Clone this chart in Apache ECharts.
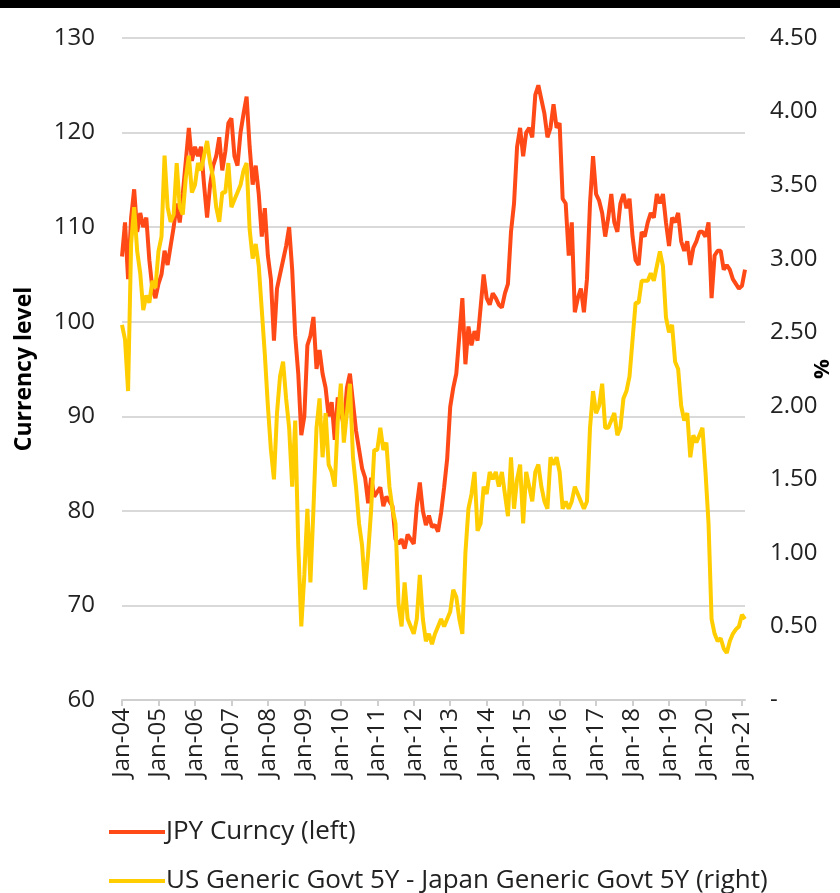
<!DOCTYPE html>
<html>
<head>
<meta charset="utf-8">
<script src="https://cdn.jsdelivr.net/npm/echarts@6/dist/echarts.min.js"></script>
<style>
    html, body { margin: 0; padding: 0; background: #fff; }
    #chart { width: 840px; height: 893px; }
</style>
</head>
<body>
<div id="chart"></div>
<script>
    // month labels Jan-04 .. Feb-21
    var years = ['04','05','06','07','08','09','10','11','12','13','14','15','16','17','18','19','20','21'];
    var monthNames = ['Jan','Feb','Mar','Apr','May','Jun','Jul','Aug','Sep','Oct','Nov','Dec'];
    var months = [];
    for (var i = 0; i < years.length; i++) {
        for (var j = 0; j < 12; j++) {
            if (years[i] === '21' && j > 1) break;
            months.push(monthNames[j] + '-' + years[i]);
        }
    }

    // JPY Curncy (left axis), one value per month
    var jpy = [
        106.9, 110.5, 104.5, 111.0, 114.0, 109.5, 111.5, 110.0, 111.0, 106.5, 103.5, 102.5, // 2004
        104.0, 105.0, 107.5, 106.0, 108.0, 110.0, 112.5, 110.5, 113.5, 117.0, 120.5, 117.0, // 2005
        118.5, 117.5, 118.5, 114.5, 111.0, 114.5, 116.5, 117.5, 119.5, 116.0, 118.0, 121.0, // 2006
        121.5, 117.5, 116.5, 120.0, 122.0, 123.8, 118.5, 114.5, 116.5, 113.5, 109.0, 112.0, // 2007
        107.0, 104.5, 98.0, 103.5, 105.0, 106.5, 108.0, 110.0, 105.5, 98.5, 94.5, 88.0,      // 2008
        90.0, 97.5, 98.5, 100.5, 95.0, 97.0, 94.5, 93.0, 90.0, 91.5, 87.5, 92.0,             // 2009
        90.5, 89.0, 93.0, 94.5, 91.5, 88.5, 86.5, 84.5, 83.5, 80.8, 83.5, 81.5,              // 2010
        82.0, 82.5, 80.5, 81.5, 81.0, 80.5, 77.0, 76.5, 77.0, 76.0, 77.5, 77.0,              // 2011
        76.5, 80.5, 83.0, 80.0, 78.5, 79.5, 78.3, 78.5, 77.8, 79.8, 82.5, 85.5,              // 2012
        91.0, 93.0, 94.5, 98.5, 102.5, 95.5, 99.5, 97.5, 99.0, 98.0, 101.5, 105.0,           // 2013
        102.5, 101.8, 103.0, 102.5, 101.8, 101.5, 103.0, 104.0, 109.5, 112.5, 118.5, 120.5,  // 2014
        117.5, 120.0, 120.5, 119.5, 124.0, 125.0, 123.5, 122.0, 119.5, 120.5, 123.0, 120.5,  // 2015
        121.0, 113.0, 112.5, 107.0, 110.5, 101.0, 102.5, 103.5, 101.0, 104.5, 112.5, 117.5,  // 2016
        113.5, 112.8, 111.5, 109.0, 111.0, 113.5, 110.5, 109.5, 112.5, 113.5, 112.0, 113.0,  // 2017
        109.0, 106.5, 106.0, 109.5, 109.0, 110.5, 111.5, 111.0, 113.5, 112.5, 113.5, 110.5,  // 2018
        108.0, 111.0, 110.5, 111.5, 108.5, 107.5, 108.5, 106.0, 107.8, 108.5, 109.5, 109.5,  // 2019
        109.0, 110.5, 102.5, 107.0, 107.5, 107.5, 105.5, 106.0, 105.5, 104.5, 104.0, 103.5,  // 2020
        103.8, 105.5                                                                         // 2021
    ];

    // US 5Y - Japan 5Y spread, % (right axis)
    var spread = [
        2.55, 2.45, 2.10, 3.10, 3.35, 3.05, 2.90, 2.65, 2.75, 2.70, 2.85, 2.80, // 2004
        3.05, 3.15, 3.70, 3.35, 3.25, 3.30, 3.65, 3.35, 3.30, 3.55, 3.70, 3.45, // 2005
        3.50, 3.65, 3.60, 3.70, 3.80, 3.65, 3.55, 3.35, 3.25, 3.45, 3.45, 3.65, // 2006
        3.35, 3.40, 3.45, 3.50, 3.60, 3.65, 3.20, 3.00, 3.10, 2.95, 2.65, 2.35, // 2007
        2.00, 1.70, 1.50, 1.95, 2.20, 2.30, 2.05, 1.85, 1.45, 1.90, 1.05, 0.50, // 2008
        0.85, 1.30, 0.80, 1.30, 1.85, 2.05, 1.65, 1.95, 1.60, 1.55, 1.45, 1.90, // 2009
        2.15, 1.75, 1.95, 2.15, 1.65, 1.45, 1.20, 1.05, 0.75, 1.00, 1.30, 1.70, // 2010
        1.70, 1.85, 1.70, 1.75, 1.45, 1.30, 1.20, 0.65, 0.50, 0.80, 0.55, 0.50, // 2011
        0.45, 0.55, 0.85, 0.55, 0.40, 0.45, 0.38, 0.45, 0.50, 0.55, 0.50, 0.55, // 2012
        0.60, 0.75, 0.70, 0.55, 0.45, 1.00, 1.30, 1.40, 1.55, 1.15, 1.20, 1.45, // 2013
        1.40, 1.55, 1.50, 1.55, 1.45, 1.55, 1.40, 1.25, 1.65, 1.30, 1.50, 1.60, // 2014
        1.20, 1.55, 1.45, 1.35, 1.55, 1.60, 1.45, 1.35, 1.30, 1.65, 1.60, 1.65, // 2015
        1.55, 1.30, 1.35, 1.30, 1.35, 1.45, 1.40, 1.35, 1.30, 1.35, 1.85, 2.10, // 2016
        1.95, 2.00, 2.15, 1.85, 1.85, 1.90, 1.95, 1.80, 1.85, 2.05, 2.10, 2.20, // 2017
        2.45, 2.70, 2.70, 2.85, 2.85, 2.85, 2.90, 2.85, 2.95, 3.05, 2.95, 2.60, // 2018
        2.50, 2.55, 2.30, 2.25, 2.00, 1.90, 1.95, 1.65, 1.80, 1.75, 1.80, 1.85, // 2019
        1.55, 1.20, 0.55, 0.45, 0.40, 0.42, 0.35, 0.32, 0.40, 0.45, 0.48, 0.50, // 2020
        0.58, 0.55                                                              // 2021
    ];

    var leftTicks = { min: 60, max: 130, step: 10 };
    var rightTicks = { min: 0, max: 4.5, step: 0.5 };

    var FONT = '"Open Sans", "Noto Sans", sans-serif';
    var RED = '#ff4a17';
    var YELLOW = '#ffcd00';
    var names = ['JPY Curncy (left)', 'US Generic Govt 5Y - Japan Generic Govt 5Y (right)'];

    var myChart = echarts.init(document.getElementById('chart'));

    function legendRow(name, top) {
        return {
            left: 104,
            top: top,
            itemWidth: 56,
            itemHeight: 4,
            icon: 'rect',
            textStyle: { fontFamily: FONT, fontSize: 26, color: '#222', padding: [0, 0, 0, -4] },
            data: [name]
        };
    }

    var isJan = function (idx, val) { return val.indexOf('Jan') === 0; };

    var option = {
        animation: false,
        backgroundColor: '#fff',
        textStyle: { fontFamily: FONT },
        graphic: [
            // black bar on top
            { type: 'rect', left: 0, top: 0, shape: { width: 840, height: 8 }, style: { fill: '#000' } }
        ],
        grid: { left: 122, right: 95, top: 38, bottom: 193, outerBoundsMode: 'none' },
        legend: [legendRow(names[0], 814), legendRow(names[1], 863)],
        xAxis: {
            type: 'category',
            boundaryGap: false,
            data: months,
            axisLine: { lineStyle: { color: '#cfcfcf', width: 2 } },
            axisTick: { length: 6, lineStyle: { color: '#cfcfcf', width: 2 }, interval: isJan },
            axisLabel: { rotate: 90, margin: 8, fontFamily: FONT, fontSize: 24, color: '#222', interval: isJan },
            splitLine: { show: false }
        },
        yAxis: [
            {
                type: 'value',
                min: leftTicks.min,
                max: leftTicks.max,
                interval: leftTicks.step,
                name: 'Currency level',
                nameLocation: 'middle',
                nameRotate: 90,
                nameGap: 86,
                nameMoveOverlap: false,
                nameTextStyle: { fontFamily: FONT, fontSize: 23, fontWeight: 'bold', color: '#000' },
                axisLine: { show: false },
                axisTick: { show: false },
                axisLabel: { margin: 27, fontFamily: FONT, fontSize: 24, color: '#222' },
                splitLine: { lineStyle: { color: '#d9d9d9', width: 2 } }
            },
            {
                type: 'value',
                min: rightTicks.min,
                max: rightTicks.max,
                interval: rightTicks.step,
                name: '%',
                nameLocation: 'middle',
                nameRotate: 90,
                nameGap: 67,
                nameMoveOverlap: false,
                nameTextStyle: { fontFamily: FONT, fontSize: 22, fontWeight: 'bold', color: '#000' },
                axisLine: { show: false },
                axisTick: { show: false },
                axisLabel: {
                    margin: 25,
                    fontFamily: FONT,
                    fontSize: 24,
                    color: '#222',
                    formatter: function (v) { return v === 0 ? '-' : v.toFixed(2); }
                },
                splitLine: { show: false }
            }
        ],
        series: [
            {
                name: names[0],
                type: 'line',
                yAxisIndex: 0,
                data: jpy,
                showSymbol: false,
                lineStyle: { color: RED, width: 4 },
                itemStyle: { color: RED }
            },
            {
                name: names[1],
                type: 'line',
                yAxisIndex: 1,
                data: spread,
                showSymbol: false,
                lineStyle: { color: YELLOW, width: 4 },
                itemStyle: { color: YELLOW }
            }
        ]
    };

    myChart.setOption(option);
</script>
</body>
</html>
